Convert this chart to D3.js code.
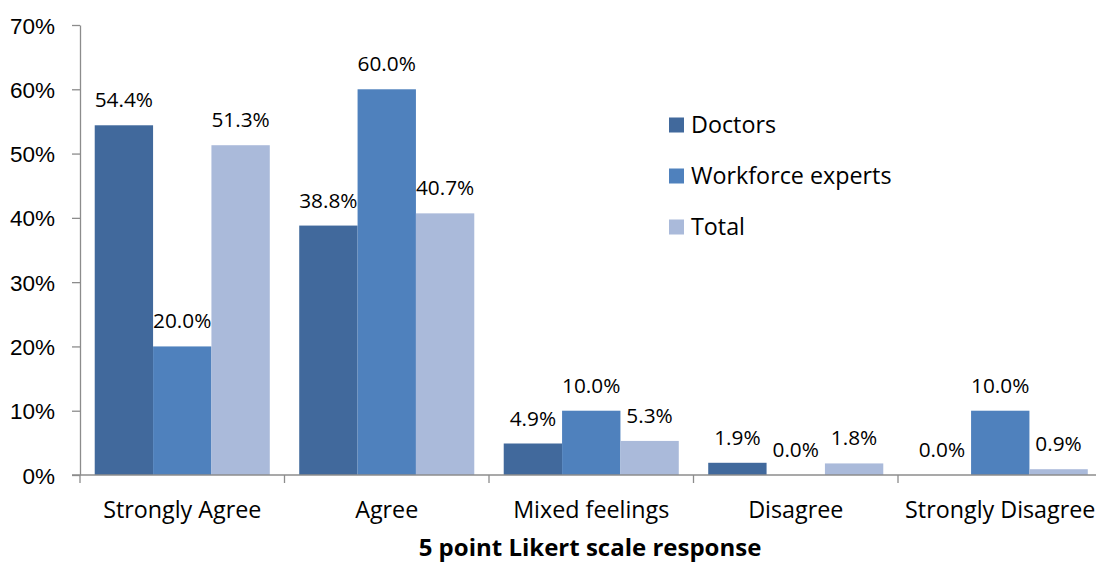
<!DOCTYPE html>
<html><head><meta charset="utf-8">
<script src="https://cdn.jsdelivr.net/npm/d3@7"></script>
<style>body{margin:0;background:#fff;overflow:hidden;} svg{display:block;font-family:"Open Sans", "Noto Sans", sans-serif;}</style>
</head><body>
<svg id="c" width="1096" height="562"></svg>
<script>
const categories = ["Strongly Agree","Agree","Mixed feelings","Disagree","Strongly Disagree"];
const seriesNames = ["Doctors","Workforce experts","Total"];
const doctors = [54.4, 38.8, 4.9, 1.9, 0.0];
const workforce = [20.0, 60.0, 10.0, 0.0, 10.0];
const total = [51.3, 40.7, 5.3, 1.8, 0.9];
const yTicks = [0,10,20,30,40,50,60,70];
const colors = ["#41699C","#4F81BD","#AABADA"];
const xTitle = "5 point Likert scale response";

const series = [doctors, workforce, total];
const svg = d3.select("#c");
const mLeft = 80, mRight = 1102.5, mTop = 25, mBottom = 475;

const x = d3.scaleBand().domain(categories).range([mLeft, mRight]).paddingInner(0.144).paddingOuter(0.072);
const x0 = d3.scaleBand().domain(categories).range([mLeft, mRight]);
const xs = d3.scaleBand().domain(seriesNames).range([0, x.bandwidth()]);
const y = d3.scaleLinear().domain([0,70]).range([mBottom, mTop]);

// y axis
const yAxis = svg.append("g").attr("transform",`translate(${mLeft},0)`)
  .call(d3.axisLeft(y).tickValues(yTicks).tickFormat(d=>d+"%").tickSize(8).tickSizeOuter(0));
yAxis.select(".domain").attr("stroke","#8c8c8c").attr("stroke-width",1.3);
yAxis.selectAll(".tick line").attr("stroke","#8c8c8c").attr("stroke-width",1.3);
yAxis.selectAll(".tick text").attr("font-size",22.5).attr("fill","#000").attr("x",-25).attr("dy","0.36em");

// bars
series.forEach((vals, si) => {
  svg.append("g").selectAll("rect").data(vals).join("rect")
    .attr("x",(d,i)=>x(categories[i]) + xs(seriesNames[si]))
    .attr("width", xs.bandwidth())
    .attr("y", d=>y(d))
    .attr("height", d=>y(0)-y(d))
    .attr("fill", colors[si]);
  svg.append("g").selectAll("text").data(vals).join("text")
    .attr("x",(d,i)=>x(categories[i]) + xs(seriesNames[si]) + xs.bandwidth()/2)
    .attr("y", d=>y(d)-18)
    .attr("text-anchor","middle")
    .attr("font-size",20.8)
    .attr("fill","#000")
    .text(d=>d.toFixed(1)+"%");
});

// x axis
const xAxis = svg.append("g").attr("transform",`translate(0,${mBottom})`);
xAxis.append("line").attr("x1",mLeft-8).attr("x2",1096).attr("y1",0).attr("y2",0).attr("stroke","#8c8c8c").attr("stroke-width",1.3);
const bounds = categories.map(c=>x0(c));
xAxis.selectAll("line.t").data(bounds).join("line").attr("class","t")
  .attr("x1",d=>d).attr("x2",d=>d).attr("y1",0).attr("y2",8).attr("stroke","#8c8c8c").attr("stroke-width",1.3);
xAxis.selectAll("text").data(categories).join("text")
  .attr("x",d=>x0(d)+x0.bandwidth()/2).attr("y",43)
  .attr("text-anchor","middle").attr("font-size",23.3).attr("fill","#000").text(d=>d);

svg.append("text").attr("x",590).attr("y",556).attr("text-anchor","middle")
  .attr("font-size",24).attr("font-weight","bold").attr("fill","#000").text(xTitle);

// legend
const lg = svg.append("g");
seriesNames.forEach((n,i)=>{
  const yy = 125 + i*51;
  lg.append("rect").attr("x",669).attr("y",yy-7.5).attr("width",15).attr("height",15).attr("fill",colors[i]);
  lg.append("text").attr("x",691).attr("y",yy).attr("dy","0.36em").attr("font-size",23.3).attr("fill","#000").text(n);
});
</script>
</body></html>
